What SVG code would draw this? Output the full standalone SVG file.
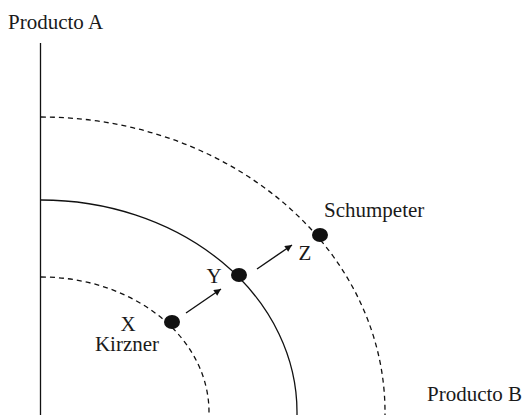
<svg xmlns="http://www.w3.org/2000/svg" width="524" height="415" viewBox="0 0 524 415">
<style>
.t{font-family:"Liberation Serif","Times New Roman",serif;font-size:21px;fill:#1a1a1a}
.c{fill:none;stroke:#111;stroke-width:1.3}
.d{stroke-dasharray:5 4}
.a{fill:none;stroke:#111;stroke-width:1.4;marker-end:url(#ah)}
.dot{fill:#111}
</style>
<defs>
<marker id="ah" viewBox="0 0 10 10" refX="10" refY="5" markerWidth="9" markerHeight="7" markerUnits="userSpaceOnUse" orient="auto">
<path d="M0,0L10,5L0,10z" fill="#111"/>
</marker>
</defs>
<g id="axis">
<line x1="40.5" y1="43" x2="40.5" y2="415" stroke="#111" stroke-width="1.3"/>
<text class="t" x="8" y="29">Producto A</text>
<text class="t" x="427" y="401">Producto B</text>
</g>
<g id="curves">
<path id="inner" class="c d" d="M41,277 A168,135 0 0 1 209,412 L209,415"/>
<path id="middle" class="c" d="M41,200 A256,212 0 0 1 297,412 L297,415"/>
<path id="outer" class="c d" d="M41,117 A344,295 0 0 1 385,412 L385,415"/>
</g>
<g id="nodeX">
<ellipse class="dot" cx="172" cy="322" rx="8" ry="7"/>
<text class="t" x="128" y="331" text-anchor="middle">X</text>
<text class="t" x="127" y="351" text-anchor="middle">Kirzner</text>
</g>
<g id="nodeY">
<ellipse class="dot" cx="239" cy="275" rx="8" ry="7"/>
<text class="t" x="214" y="283" text-anchor="middle">Y</text>
</g>
<g id="nodeZ">
<ellipse class="dot" cx="320" cy="235" rx="8" ry="7"/>
<text class="t" x="305" y="260" text-anchor="middle">Z</text>
<text class="t" x="324" y="217">Schumpeter</text>
</g>
<g id="connectors">
<line class="a" x1="186" y1="313" x2="221" y2="289"/>
<line class="a" x1="257" y1="269" x2="292" y2="245"/>
</g>
</svg>
